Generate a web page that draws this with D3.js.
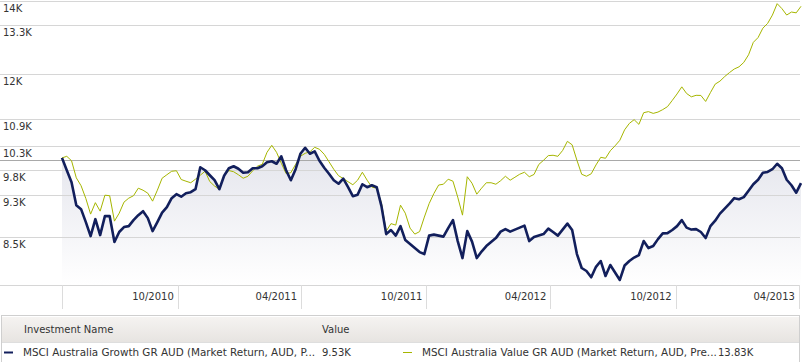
<!DOCTYPE html>
<html>
<head>
<meta charset="utf-8">
<script src="https://cdn.jsdelivr.net/npm/d3@7"></script>
<style>
    body { margin: 0; background: #fff; }
    text { font-family: "DejaVu Sans", Verdana, sans-serif; font-size: 10px; fill: #333; }
</style>
</head>
<body>
<div id="chart"></div>
<script>
// weekly growth of 10K, first week ending 2010-05-14
const startDate = "2010-05-14";

const growth = [
    10050, 9792, 9548, 9098, 9022, 8779, 8524, 8834, 8542, 8890,
    8890, 8418, 8598, 8688, 8705, 8816, 8909, 8984, 8853, 8614,
    8779, 8956, 9060, 9233, 9311, 9262, 9330, 9350, 9409, 9854,
    9792, 9690, 9589, 9409, 9680, 9833, 9875, 9823, 9741, 9751,
    9833, 9833, 9875, 9958, 9979, 9927, 10084, 9792, 9589, 9813,
    10138, 10266, 10138, 10191, 9990, 9844, 9720, 9589, 9518, 9619,
    9449, 9272, 9301, 9508, 9449, 9488, 9449, 9079, 8560, 8634,
    8533, 8705, 8453, 8382, 8312, 8242, 8208, 8533, 8551, 8533,
    8515, 8669, 8816, 8435, 8139, 8614, 8426, 8139, 8251, 8347,
    8418, 8488, 8605, 8651, 8605, 8642, 8678, 8714, 8435, 8507,
    8533, 8560, 8660, 8598, 8533, 8642, 8751, 8634, 8208, 7970,
    7920, 7816, 7990, 8088, 7837, 8020, 7895, 7772, 8012, 8088,
    8148, 8191, 8435, 8312, 8347, 8470, 8573, 8577, 8634, 8705,
    8816, 8678, 8642, 8651, 8598, 8490, 8705, 8806, 8937, 9031,
    9127, 9233, 9213, 9253, 9379, 9508, 9598, 9741, 9757, 9813,
    9927, 9833, 9598, 9488, 9340, 9530
];

const valueSeries = [
    10050, 10084, 9990, 9637, 9478, 9227, 8928, 9146, 8984, 9291,
    9281, 8797, 8946, 9156, 9233, 9281, 9429, 9389, 9330, 9175,
    9389, 9629, 9700, 9771, 9782, 9603, 9569, 9538, 9609, 9690,
    9771, 9561, 9472, 9409, 9680, 9786, 9761, 9700, 9629, 9669,
    9782, 9875, 9916, 10169, 10320, 10169, 9937, 9724, 9741, 9916,
    10084, 10148, 10180, 10277, 10234, 10127, 9969, 9813, 9680, 9623,
    9558, 9498, 9589, 9751, 9589, 9449, 9429, 9142, 8614, 8751,
    8724, 9098, 8946, 8669, 8560, 8605, 8872, 9127, 9324, 9492,
    9508, 9609, 9569, 9253, 8909, 9659, 9528, 9311, 9429, 9538,
    9538, 9508, 9579, 9669, 9589, 9649, 9710, 9751, 9659, 9706,
    9912, 10000, 10099, 10106, 10084, 10208, 10407, 10331, 10000, 9710,
    9669, 9720, 9902, 10063, 10042, 10202, 10309, 10429, 10662, 10808,
    10893, 10786, 11054, 11079, 11038, 11068, 11126, 11196, 11344, 11499,
    11672, 11511, 11430, 11466, 11463, 11319, 11531, 11739, 11813, 11928,
    12028, 12119, 12175, 12289, 12487, 12819, 12949, 13207, 13341, 13576,
    13907, 13762, 13578, 13664, 13641, 13830
];

const yTicks = [8500, 9300, 9800, 10300, 10900, 12000, 13300, 14000];
const xTicks = ["2010-10-31", "2011-04-30", "2011-10-31", "2012-04-30", "2012-10-31", "2013-04-30"];

const seriesNames = [
    "MSCI Australia Growth GR AUD (Market Return, AUD, P...",
    "MSCI Australia Value GR AUD (Market Return, AUD, Pre..."
];
const seriesLast = ["9.53K", "13.83K"];
const seriesColors = ["#121f5c", "#a6b600"];

const width = 806;
const height = 362;
const plotLeft = 62, plotRight = 801, plotBottom = 285;

const parse = d3.utcParse("%Y-%m-%d");
const dates = growth.map((_, i) => d3.utcDay.offset(parse(startDate), 7 * i));

const svg = d3.select("#chart")
    .append("svg")
    .attr("width", width)
    .attr("height", height);

const x = d3.scaleUtc()
    .domain([dates[0], dates[dates.length - 1]])
    .range([plotLeft, plotRight]);

const y = d3.scaleLog()
    .domain([7690, 14000])
    .range([plotBottom, 0.5]);

const snap = v => Math.round(v) + 0.5;

// fill under the growth line
const grad = svg.append("defs").append("linearGradient")
    .attr("id", "fade")
    .attr("gradientUnits", "userSpaceOnUse")
    .attr("x1", 0).attr("x2", 0)
    .attr("y1", 140).attr("y2", plotBottom);
grad.append("stop").attr("offset", 0).attr("stop-color", "#e2e3eb");
grad.append("stop").attr("offset", 1).attr("stop-color", "#ffffff");

const area = d3.area()
    .x((d, i) => x(dates[i]))
    .y0(plotBottom)
    .y1(d => y(d));

svg.append("path")
    .datum(growth)
    .attr("fill", "url(#fade)")
    .attr("d", area);

// gridlines
svg.append("g")
    .selectAll("line")
    .data(yTicks)
    .join("line")
    .attr("x1", 0)
    .attr("x2", 800)
    .attr("y1", d => snap(y(d)))
    .attr("y2", d => snap(y(d)))
    .attr("stroke", "#d6d6d6");

svg.append("line")
    .attr("x1", 0).attr("x2", 800)
    .attr("y1", snap(y(10000))).attr("y2", snap(y(10000)))
    .attr("stroke", "#a9a9a9");

svg.append("g")
    .selectAll("text")
    .data(yTicks)
    .join("text")
    .attr("x", 3)
    .attr("y", d => y(d) + 11)
    .text(d => `${+(d / 1000).toFixed(1)}K`);

// x axis
svg.append("line")
    .attr("x1", 0).attr("x2", 800)
    .attr("y1", plotBottom + 0.5).attr("y2", plotBottom + 0.5)
    .attr("stroke", "#d6d6d6");

const tickDates = xTicks.map(parse);
svg.append("g")
    .selectAll("line")
    .data([dates[0], ...tickDates])
    .join("line")
    .attr("x1", d => snap(x(d)))
    .attr("x2", d => snap(x(d)))
    .attr("y1", plotBottom)
    .attr("y2", 309)
    .attr("stroke", "#dcdcdc");

svg.append("g")
    .selectAll("text")
    .data(tickDates)
    .join("text")
    .attr("x", d => x(d) - 4)
    .attr("y", 300)
    .attr("text-anchor", "end")
    .text(d => d3.utcFormat("%m/%Y")(d));

// lines
const line = d3.line()
    .x((d, i) => x(dates[i]))
    .y(d => y(d));

svg.append("path")
    .datum(valueSeries)
    .attr("fill", "none")
    .attr("stroke", seriesColors[1])
    .attr("stroke-width", 1)
    .attr("d", line);

svg.append("path")
    .datum(growth)
    .attr("fill", "none")
    .attr("stroke", seriesColors[0])
    .attr("stroke-width", 2.6)
    .attr("stroke-linejoin", "round")
    .attr("d", line);

// legend table
const hg = svg.select("defs").append("linearGradient")
    .attr("id", "head")
    .attr("x1", 0).attr("x2", 0).attr("y1", 0).attr("y2", 1);
hg.append("stop").attr("offset", 0).attr("stop-color", "#f5f3f1");
hg.append("stop").attr("offset", 1).attr("stop-color", "#e7e4e1");

svg.append("rect")
    .attr("x", 1.5).attr("y", 315.5)
    .attr("width", 798).attr("height", 50)
    .attr("fill", "#fff")
    .attr("stroke", "#cfcfcf");

svg.append("rect")
    .attr("x", 2).attr("y", 317)
    .attr("width", 797).attr("height", 25)
    .attr("fill", "url(#head)");

svg.append("line")
    .attr("x1", 2).attr("x2", 799)
    .attr("y1", 342.5).attr("y2", 342.5)
    .attr("stroke", "#dedede");

svg.append("text").attr("x", 24).attr("y", 333).text("Investment Name");
svg.append("text").attr("x", 322).attr("y", 333).text("Value");

const rowX = [4, 403];
seriesNames.forEach((name, i) => {
    svg.append("line")
        .attr("x1", rowX[i]).attr("x2", rowX[i] + 9)
        .attr("y1", 352.5).attr("y2", 352.5)
        .attr("stroke", seriesColors[i])
        .attr("stroke-width", i === 0 ? 2 : 1);
    svg.append("text")
        .attr("x", rowX[i] + 19)
        .attr("y", 356)
        .style("font-size", "10.4px")
        .text(name);
    svg.append("text")
        .attr("x", rowX[i] + (i === 0 ? 318 : 315))
        .attr("y", 356)
        .text(seriesLast[i]);
});
</script>
</body>
</html>
